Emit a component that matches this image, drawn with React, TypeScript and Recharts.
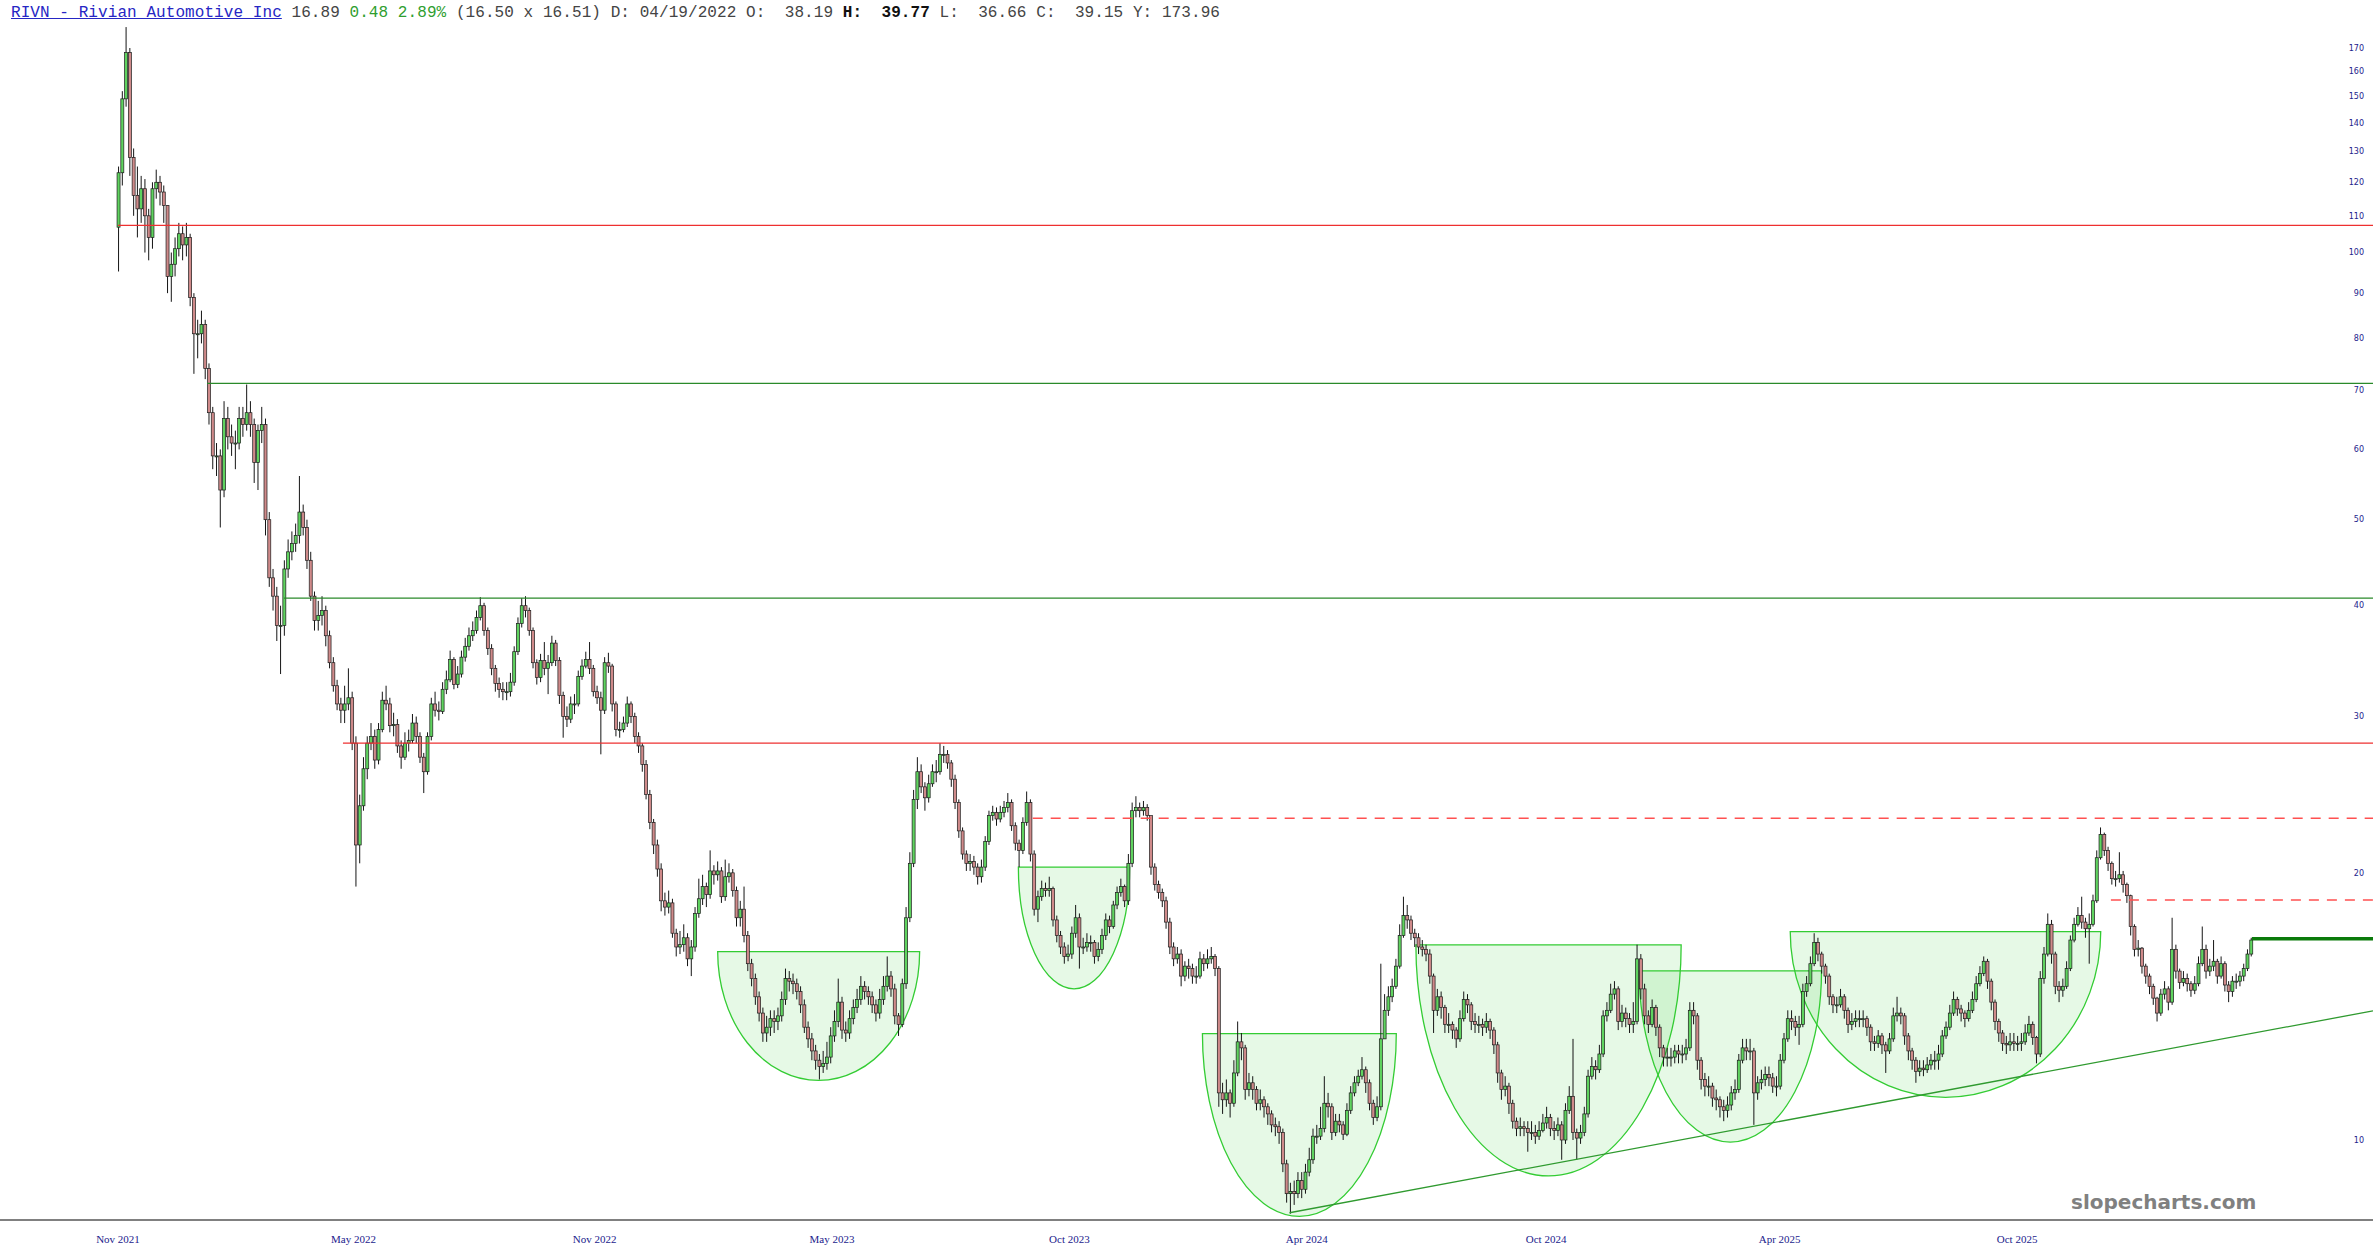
import React from "react";
import { ComposedChart, Bar, XAxis, YAxis, ReferenceLine, ReferenceArea } from "recharts";

// Two-session candles. Each candle opens where the previous one closed.
const firstOpen = 106.8;
const closes = [
  123,149,168,128,116,112,118,110,104,118,
  120,117,113,94,97,101,105,102,104,89,
  81,81,83,74,66,59,59,54,65,62,
  61,61,65,64,66,64,58,63,64,50,
  43,41,38,38,44,46,47,48,51,49,
  45,41,38.5,39,39.5,37,34.5,32.5,31,30.5,
  31,31.5,28,21.5,23.8,26.2,28,28.5,26.8,29,
  31.3,31,29.3,29.4,27.8,27,28,28.2,29.5,28.5,
  27,26,28.5,31,30.5,30.4,32.2,33,34.8,32.6,
  33.5,35,36,37,37.5,38.8,40,37.5,35.8,34,
  32.7,32.2,32,32,32.8,35.5,38.2,40,39.5,37.5,
  34.5,33.2,34.7,34,34.5,36.3,34.7,31.7,30,29.8,
  31,31,33.3,34.2,34.8,34,32,31.5,30.5,34.5,
  34.2,31,29,29,29.5,31,30,28.5,27.8,26.5,
  24.5,22.8,21.5,20.2,18.6,18.3,18.5,17.1,16.5,16.6,
  16.9,16,16.5,18,18.7,19.3,18.9,20.1,19.9,20.1,
  18.8,19.8,20,19.1,17.8,18.2,17,15.8,15.2,14.5,
  13.9,13.2,13.4,13.7,13.6,13.8,14.4,15.2,15.1,15,
  14.7,14.2,13.4,13,12.6,12.3,12.1,12.2,12.4,13.1,
  13.6,14.3,13.3,13.2,13.7,14.1,14.4,14.9,14.7,14.5,
  14.2,13.9,14.4,14.9,15.3,14.8,13.8,13.5,15,17.8,
  20.5,24.2,26,25,24.3,25.2,26,26,27.2,27.2,
  26.6,25.5,24,22.3,21,20.5,20.6,20.3,19.8,20.3,
  21.7,23.2,23.4,23,23.4,23.7,24,22.6,21.6,21.2,
  22.8,24,21,18.2,18.8,19.2,19.1,19.2,17.7,17,
  16.5,16.1,16.2,17.1,17.8,16.5,16.5,16.7,16.7,16.1,
  16.4,17,17.7,17.4,18.4,19,19.3,18.6,20.5,23.5,
  23.7,23.5,23.7,23.2,20.3,19.4,19,18.6,17.6,16.5,
  16,16.2,15.3,15.7,15.6,15.3,15.3,16,15.8,16,
  16.1,15.6,11.3,11.1,11.3,11,11.9,12.9,12.7,11.4,
  11.6,11.4,11,11.1,10.9,10.7,10.4,10.35,10.2,9.4,
  8.7,8.75,8.7,9,8.8,9.2,9.5,10.1,10.1,10.3,
  11,10.9,10.2,10.5,10.4,10.15,10.8,11.3,11.6,11.8,
  12,11.6,11,10.6,10.9,13,14,14.5,14.9,15.7,
  17,17.9,17.7,17.1,16.9,16.5,16.4,16.2,15.3,14,
  14.5,14.1,13.5,13.5,13.3,13,13.7,14.4,14.2,13.6,
  13.5,13.5,13.4,13.6,13.3,12.8,11.9,11.4,11.5,11,
  10.5,10.3,10.35,10.3,10.2,10.2,10.1,10.25,10.45,10.6,
  10.3,10.25,10.4,10,10.8,11.2,10.2,10.05,10.2,10.7,
  11.8,12.1,12,12.5,13.8,14,14.6,14.8,13.6,13.9,
  13.7,13.5,13.6,16,14.8,13.8,13.5,14.1,13.4,12.7,
  12.4,12.4,12.4,12.6,12.5,12.5,12.7,14,13.8,12.3,
  11.7,11.5,11.5,11.15,11.1,10.9,10.8,10.95,11.3,11.4,
  12.3,12.7,12.6,12.6,11.3,11.6,11.7,11.85,11.75,11.5,
  11.5,12.3,13,13.7,13.6,13.4,13.5,14.7,15,15.8,
  16.7,16.2,15.7,15.3,14.5,14.2,14.2,14.5,14,13.5,
  13.6,13.7,13.7,13.7,13.4,12.9,12.85,13.1,12.8,12.6,
  13,13.8,13.9,13.8,13.1,12.6,12.3,11.95,12.05,12,
  12.15,12.3,12.3,12.5,13.1,13.4,13.9,14.4,14.05,13.9,
  13.7,14,14.4,15,15.4,15.9,15.1,14.3,13.6,13.2,
  12.85,12.8,12.9,12.85,12.85,12.9,13.2,13.5,13.05,12.5,
  15.2,16.2,17.5,16.2,14.9,14.75,14.9,15.6,16.8,17.5,
  17.9,17.6,17.3,17.5,18.6,20.8,22.1,21.2,20.5,19.7,
  19.7,19.9,19.4,18.85,17.4,16.4,16.45,15.7,15.3,14.9,
  14.45,13.9,14.6,14.8,14.3,16.4,15.5,15.05,15.2,15,
  14.75,15,15.8,16.4,15.5,15.7,15.9,15.3,15.8,14.95,
  14.7,15.1,15.1,15.3,15.6,16.2,16.8,
];
const highs = [
  125,152,179.5,170,131,125,122,121,112,120,
  124,122,119,113,100,104,108,107,108,105,
  90,84,86,84,75,67,61,60,68,67,
  64,63,67,67,71,68,65,64,67,65,
  51,44,42,40,45,47.5,48.5,49.5,56,52,
  50,46,41.5,40.5,41,40,37.5,35,33,31.5,
  32.5,34,32,28.5,24.5,27,28.5,29.5,29,29.5,
  32,32.5,31.5,30.3,29.8,28.2,28.8,29,30.2,30,
  28.8,27.3,28.8,31.5,32,31.2,32.8,33.8,35.6,35,
  34.2,35.6,36.8,37.8,38.4,39.5,40.9,40.3,37.8,36.2,
  34.3,33.2,32.8,32.8,33.6,36,38.8,40.8,41,39.8,
  37.8,34.8,35.3,36.4,35.2,37,36.6,35,32,30.8,
  31.6,31.8,33.8,34.8,35.5,36.4,34.3,32.5,32,35,
  35.4,34.4,31.2,29.6,30,31.6,31.2,30.3,28.8,28,
  26.8,24.8,23,21.8,20.5,19,19.1,18.7,17.3,17.2,
  17.5,17.1,16.8,18.3,19.7,19.9,19.5,21.2,20.4,20.6,
  20.3,20.7,20.5,20.2,19.3,18.6,19.3,17.2,16,15.4,
  14.7,14.1,13.8,14,14,14.1,14.7,15.6,15.5,15.4,
  15.2,14.9,14.4,13.6,13.2,12.8,12.5,12.6,12.9,13.4,
  14,15.2,14.5,13.6,14,14.4,14.8,15.3,15.1,14.9,
  14.7,14.4,14.8,15.3,16.1,15.5,15,13.9,15.2,18.3,
  21.1,24.8,27,26.5,25.3,25.8,26.5,26.8,28,27.8,
  27.5,26.8,25.8,24.2,22.5,21.2,21,20.9,20.5,20.7,
  22,23.5,23.8,23.7,23.8,24.1,24.6,24.2,22.8,21.8,
  23.1,24.7,24.2,21.2,19.1,19.6,19.5,19.8,19.3,17.9,
  17.2,16.7,16.6,17.4,18.4,18,16.9,17.1,17,16.8,
  16.7,17.3,18,17.9,18.6,19.3,19.7,19.4,21,24,
  24.4,24,24.1,23.9,21.5,20.5,19.6,19.2,18.8,17.8,
  16.7,16.5,16.4,15.9,16,15.8,15.7,16.3,16.2,16.4,
  16.5,16.2,15.7,11.6,11.7,11.4,12.3,13.6,13.2,12.8,
  11.9,11.8,11.5,11.4,11.2,11,10.8,10.6,10.5,10.3,
  9.5,8.95,9,9.2,9.2,9.4,9.8,10.3,10.4,10.9,
  11.8,11.3,11,10.7,10.7,10.5,11,11.5,11.8,12,
  12.4,12.1,11.7,11.1,11.2,15.8,14.6,14.9,15.2,16,
  17.5,18.8,18.4,17.9,17.3,17.1,16.8,16.6,16.4,15.4,
  14.8,14.7,14.2,13.9,13.6,13.4,14,14.7,14.6,14.3,
  13.9,13.8,13.7,13.9,13.7,13.4,12.9,12,11.8,11.6,
  11.1,10.6,10.6,10.5,10.5,10.5,10.4,10.5,10.7,10.9,
  10.7,10.5,10.6,10.5,11,11.5,13,10.3,10.4,10.9,
  12,12.4,12.3,12.8,14,14.3,15,15.1,14.9,14.2,
  14.1,13.9,14.3,16.6,16.2,15,14,14.4,14.2,13.5,
  12.8,12.7,12.7,12.8,12.8,12.8,13,14.3,14.3,13.9,
  12.4,11.9,11.8,11.6,11.4,11.2,11.1,11.2,11.5,11.7,
  12.5,13,13,13,12.7,11.8,12,12.1,12.1,11.9,
  11.8,12.5,13.2,14,14,13.8,13.8,15,15.3,16.1,
  17.1,16.9,16.3,15.8,15.4,14.6,14.5,14.8,14.6,14.1,
  13.9,14,14,14,13.8,13.5,13.1,13.3,13.2,12.9,
  13.2,14.1,14.5,14.1,13.9,13.2,12.7,12.4,12.3,12.3,
  12.4,12.5,12.6,12.8,13.3,13.6,14.2,14.7,14.5,14.2,
  14,14.3,14.7,15.3,15.7,16.1,16,15.2,14.4,13.7,
  13.3,13.1,13.2,13.2,13.1,13.2,13.5,13.8,13.6,13.1,
  15.5,16.5,18,17.7,16.3,15.1,15.2,15.9,17,17.8,
  18.3,18.8,17.8,18,18.9,21.2,22.5,22.2,21.4,20.6,
  20.1,21.1,20.1,19.5,18.9,17.5,16.8,16.5,15.8,15.4,
  15,14.5,14.8,15.1,14.9,17.8,16.6,15.6,15.5,15.4,
  15.1,15.3,16.1,17.4,16.6,16,16.8,16,16.1,15.9,
  15.1,15.3,15.4,15.5,15.8,16.4,16.9,
];
const lows = [
  95.2,119,146,122,110,104,108,100,98,101,
  115,113,108,90,88,94,99,98,99,87,
  73,76,79,72,64,57,56,49,53,60,
  59,57,60,62,63,62,55,54,61,48,
  42,39.5,36.5,33.5,37,43,45,46,47,48,
  44,40.5,37.5,37.5,38,36,34,32,30.5,29.5,
  29.5,30.5,27.5,19.3,20.5,23.5,25.5,27.5,26.2,26.5,
  28.8,30.5,28.8,28.5,27.3,26.2,26.8,27.4,28,28,
  26.6,24.6,25.8,28.2,30,29.7,30.2,31.8,32.8,32.2,
  32.3,33.2,34.6,35.6,36.5,37.2,38.5,37,35.2,33.4,
  32,31.5,31.3,31.3,31.6,32.5,35.2,37.8,38.8,37,
  34,32.6,32.8,33.4,31.8,34.2,34.2,31,28.4,29.2,
  29.5,30.2,30.8,33,34,33.5,31.6,31,27.2,30.2,
  33.6,30.4,28.5,28.4,28.8,29.2,29.5,28,27.3,26,
  24.2,22.4,21,19.8,18.1,17.9,18,16.9,16.1,16.2,
  16.3,15.7,15.3,16.3,17.8,18.4,18.3,18.7,19.4,19.6,
  18.5,18.6,19.5,18.8,17.4,17.4,16.7,15.5,14.9,14.2,
  13.6,12.9,12.9,13.1,13.2,13.3,13.6,14.2,14.7,14.6,
  14.4,13.9,13.2,12.7,12.3,12,11.7,11.9,12,12.2,
  12.9,13.4,13,12.9,13,13.5,13.9,14.2,14.4,14.2,
  13.9,13.6,13.7,14.2,14.7,14.5,13.5,13.1,13.4,14.8,
  17.6,20.3,23.6,24.6,23.5,24,25,25.3,25.8,26.6,
  26.2,25,23.6,21.9,20.7,20.1,20.1,19.9,19.4,19.5,
  20.1,21.5,22.9,22.6,22.8,23.1,23.4,22.3,21.2,20.3,
  21,22.6,20.6,17.9,17.6,18.6,18.8,18.8,17.4,16.7,
  16.2,15.8,15.9,16,16.9,15.6,16.2,16.3,16.3,15.8,
  15.9,16.2,16.8,17.1,17.3,18.2,18.8,18.3,18.4,20.3,
  23.1,23.1,23.2,22.9,19.9,19.1,18.7,18.3,17.3,16.2,
  15.7,15.8,14.9,15.1,15.2,15,15,15.2,15.5,15.6,
  15.8,15.3,10.9,10.7,10.9,10.6,10.9,11.8,12.3,11.1,
  11.2,11.1,10.8,10.8,10.6,10.4,10.2,10.1,9.9,9.2,
  8.5,8.26,8.45,8.6,8.6,8.7,9.1,9.4,9.9,10,
  10.2,10.6,10,10.1,10.2,10,10.1,10.7,11.2,11.5,
  11.7,11.3,10.8,10.4,10.5,10.8,13,13.8,14.3,14.8,
  15.6,16.9,17.3,16.8,16.5,16.2,16.1,15.9,15,13.2,
  13.8,13.7,13.2,13.2,13,12.7,12.9,13.6,13.9,13.3,
  13.2,13.2,13.1,13.2,13,12.5,11.6,11.1,11.2,10.7,
  10.3,10.1,10.1,10.1,9.7,10,9.9,10,10.2,10.3,
  10.1,10,10.1,9.5,9.9,10.7,10,9.5,9.9,10.1,
  10.6,11.7,11.7,11.9,12.4,13.6,13.9,14.4,13.3,13.4,
  13.4,13.2,13.2,13.5,14.4,13.5,13.2,13.4,13.1,12.4,
  12.1,12.1,12.1,12.2,12.2,12.2,12.3,12.6,13.5,12,
  11.4,11.2,11.2,10.9,10.8,10.6,10.5,10.6,10.8,11.1,
  11.3,12.2,12.3,12.3,10.4,11.1,11.4,11.5,11.5,11.3,
  11.2,11.4,12.2,12.9,13.3,13.1,12.8,13.4,14.5,14.9,
  15.7,15.9,15.4,15,14.2,13.9,13.9,14.1,13.7,13.2,
  13.3,13.4,13.4,13.4,13.1,12.6,12.6,12.7,12.5,11.9,
  12.5,12.9,13.6,13.5,12.8,12.3,12,11.6,11.8,11.8,
  11.9,12,12,12,12.4,13,13.3,13.8,13.8,13.6,
  13.4,13.6,13.9,14.3,14.9,15.3,14.8,14,13.3,12.9,
  12.6,12.5,12.6,12.6,12.6,12.6,12.8,13.1,12.8,12.2,
  12.4,15,16.1,15.8,14.6,14.3,14.5,14.8,15.5,16.7,
  17.4,17.3,16.9,15.8,17.4,18.5,20.7,20.9,20.1,19.4,
  19.3,19.5,19,18.5,17,16.1,16.1,15.4,15,14.6,
  14.2,13.6,13.8,14.4,14,14.2,15.2,14.8,14.9,14.7,
  14.5,14.6,14.9,15.7,15.2,15.3,15.5,15,15.2,14.7,
  14.3,14.5,14.8,14.9,15.1,15.5,16.1,
];

// x-axis: bar index of each label, and its text
const xTickIdx = [0, 125, 253, 379, 505, 631, 758, 882, 1008];
const xTickLabels = ["Nov 2021", "May 2022", "Nov 2022", "May 2023", "Oct 2023", "Apr 2024", "Oct 2024", "Apr 2025", "Oct 2025"];
const yTicks = [10, 20, 30, 40, 50, 60, 70, 80, 90, 100, 110, 120, 130, 140, 150, 160, 170];

// horizontal levels: price and first bar index
const redLevelValues = [107.3, 28.0];
const redLevelStarts = [0, 119.4];
const greenLevelValues = [71.2, 40.8];
const greenLevelStarts = [47.3, 88.1];
const dashedValues = [23.05, 18.64];
const dashedStarts = [485.5, 1057.8];
const breakoutValue = 16.86;
const breakoutStart = 1132.7;
const trendStart = { i: 621.8, p: 8.28 };
const trendEnd = { i: 1196.92, p: 13.98 };

// cup (rounded bottom) patterns
const cupLeft = [318.3, 477.9, 575.6, 688.9, 807.4, 887.6];
const cupRight = [425.5, 537.0, 678.5, 829.7, 904.2, 1052.4];
const cupTop = [16.3, 20.3, 13.18, 16.59, 15.51, 17.17];
const cupBottom = [11.67, 14.8, 8.2, 9.11, 9.94, 11.17];

const X_MIN = -62.63;
const X_MAX = 1196.92;
const Y_MIN = 8.1255;
const Y_MAX = 192.56;

const rows = closes.map((c, k) => ({
  x: 2 * k + 0.5,
  open: k === 0 ? firstOpen : closes[k - 1],
  close: c,
  high: highs[k],
  low: lows[k],
  range: [lows[k], highs[k]],
}));

const Candle = (props: any) => {
  const { x, y, width, height, payload } = props;
  if (x == null || y == null || !payload) return null;
  const top = Math.min(y, y + height);
  const bottom = Math.max(y, y + height);
  const lh = Math.log(payload.high);
  const ll = Math.log(payload.low);
  const span = lh - ll || 1e-9;
  const py = (v: number) => top + ((lh - Math.log(v)) / span) * (bottom - top);
  const up = payload.close >= payload.open;
  const bTop = py(Math.max(payload.open, payload.close));
  const bBot = py(Math.min(payload.open, payload.close));
  const cx = x + width / 2;
  return (
    <g>
      <line x1={cx} x2={cx} y1={top} y2={bottom} stroke="#151515" strokeWidth={1} />
      <rect
        x={x}
        y={bTop}
        width={width}
        height={Math.max(bBot - bTop, 1)}
        fill={up ? "#5fd35f" : "#cf8a8a"}
        stroke="#1b1b1b"
        strokeWidth={0.7}
      />
    </g>
  );
};

const Cup = (props: any) => {
  const { x, y, width, height } = props;
  if (x == null || y == null) return null;
  const d = `M ${x} ${y} L ${x + width} ${y} A ${width / 2} ${height} 0 0 1 ${x} ${y} Z`;
  return <path d={d} fill="#33cc33" fillOpacity={0.12} stroke="#33cc33" strokeWidth={1.3} />;
};

const XTick = (props: any) => {
  const { x, y, payload } = props;
  const idx = xTickIdx.indexOf(payload.value);
  return (
    <text x={x} y={y + 23} textAnchor="middle" fontFamily="'Liberation Serif', 'Times New Roman', serif" fontSize={11} fill="#22228c">
      {idx >= 0 ? xTickLabels[idx] : ""}
    </text>
  );
};

const makeYLabel = (v: number) => (p: any) => {
  const vb = p && p.viewBox ? p.viewBox : null;
  if (!vb) return null;
  const right = vb.x + vb.width;
  return (
    <text x={right - 9} y={vb.y} dy="0.35em" textAnchor="end" fontFamily="'DejaVu Sans', Verdana, sans-serif" fontSize={8} fill="#22228c">
      {v}
    </text>
  );
};

export default function App() {
  return (
    <div style={{ position: "absolute", left: 0, top: 0, width: 2373, height: 1260, background: "#fff", overflow: "hidden" }}>
      <ComposedChart width={2373} height={1260} data={rows} margin={{ top: 0, right: 0, left: 0, bottom: 0 }}>
        <XAxis
          type="number"
          dataKey="x"
          domain={[X_MIN, X_MAX]}
          allowDataOverflow
          ticks={xTickIdx}
          interval={0}
          tick={XTick}
          tickLine={false}
          tickSize={0}
          tickMargin={0}
          height={40}
          axisLine={{ stroke: "#808080", strokeWidth: 2 }}
        />
        <YAxis
          orientation="right"
          type="number"
          scale="log"
          domain={[Y_MIN, Y_MAX]}
          allowDataOverflow
          ticks={yTicks}
          hide
          width={0}
        />
        {cupLeft.map((l, n) => (
          <ReferenceArea
            key={`cup${n}`}
            x1={l}
            x2={cupRight[n]}
            y1={cupBottom[n]}
            y2={cupTop[n]}
            ifOverflow="visible"
            shape={Cup}
          />
        ))}
        <Bar dataKey="range" barSize={3} isAnimationActive={false} shape={Candle} />
        {redLevelValues.map((v, n) => (
          <ReferenceLine key={`r${n}`} ifOverflow="visible" segment={[{ x: redLevelStarts[n], y: v }, { x: X_MAX, y: v }]} stroke="#ee3030" strokeWidth={1.2} />
        ))}
        {greenLevelValues.map((v, n) => (
          <ReferenceLine key={`g${n}`} ifOverflow="visible" segment={[{ x: greenLevelStarts[n], y: v }, { x: X_MAX, y: v }]} stroke="#2a8a2a" strokeWidth={1.2} />
        ))}
        {dashedValues.map((v, n) => (
          <ReferenceLine key={`d${n}`} ifOverflow="visible" segment={[{ x: dashedStarts[n], y: v }, { x: X_MAX, y: v }]} stroke="#ff5050" strokeWidth={1.5} strokeDasharray="10 8" />
        ))}
        <ReferenceLine ifOverflow="visible" segment={[{ x: breakoutStart, y: breakoutValue }, { x: X_MAX, y: breakoutValue }]} stroke="#0b7a0b" strokeWidth={3.5} />
        <ReferenceLine ifOverflow="visible" segment={[{ x: trendStart.i, y: trendStart.p }, { x: trendEnd.i, y: trendEnd.p }]} stroke="#2f9a2f" strokeWidth={1.3} />
        {yTicks.map((t) => (
          <ReferenceLine key={`yl${t}`} y={t} stroke="none" ifOverflow="visible" label={makeYLabel(t)} />
        ))}
      </ComposedChart>
      <div
        style={{
          position: "absolute",
          left: 11,
          top: 4,
          fontFamily: "'Liberation Mono', 'Courier New', monospace",
          fontSize: 16,
          lineHeight: "18px",
          letterSpacing: "0.07px",
          whiteSpace: "pre",
          color: "#444",
        }}
      >
        <span style={{ color: "#2626c4", textDecoration: "underline" }}>RIVN - Rivian Automotive Inc</span>
        <span> 16.89 </span>
        <span style={{ color: "#2f9e2f" }}>0.48 2.89%</span>
        <span> (16.50 x 16.51) D: 04/19/2022 O:  38.19 </span>
        <span style={{ fontWeight: "bold", color: "#111" }}>H:  39.77</span>
        <span> L:  36.66 C:  39.15 Y: 173.96</span>
      </div>
      <div
        style={{
          position: "absolute",
          left: 2071,
          top: 1191,
          fontFamily: "'DejaVu Sans', Verdana, sans-serif",
          fontWeight: "bold",
          fontSize: 20,
          lineHeight: "23px",
          color: "#808080",
          whiteSpace: "pre",
        }}
      >
        slopecharts.com
      </div>
    </div>
  );
}
